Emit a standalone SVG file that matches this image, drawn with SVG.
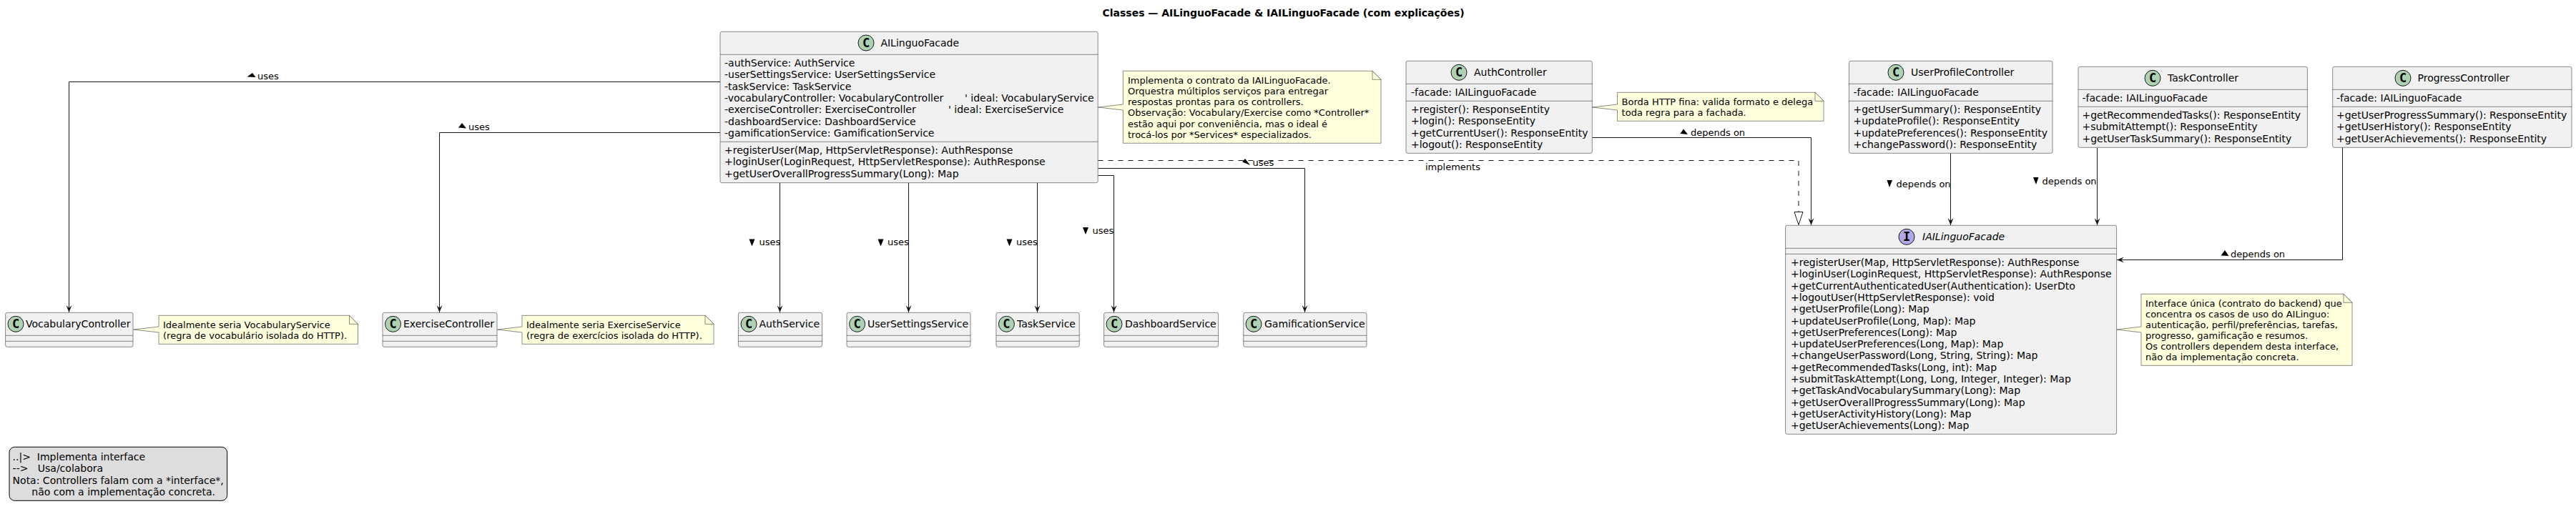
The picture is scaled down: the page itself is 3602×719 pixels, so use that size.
<svg xmlns="http://www.w3.org/2000/svg" width="3602" height="719" viewBox="0 0 3602 719">
<style>
text{font-family:"DejaVu Sans",sans-serif;font-size:14px;fill:#000;white-space:pre}
.title{font-weight:bold;text-anchor:middle}
.n,.lb{font-size:13px}
.box{fill:#F1F1F1;stroke:#181818;stroke-width:.5}
.sep{stroke:#181818;stroke-width:.5;fill:none}
.note{fill:#FEFFDD;stroke:#181818;stroke-width:.5}
.ci{fill:#ADD1B2;stroke:#181818;stroke-width:1}
.ii{fill:#B4A7E5;stroke:#181818;stroke-width:1}
.g{font-family:"DejaVu Sans Mono",monospace;font-weight:bold;font-size:17px;text-anchor:middle}
.c{fill:none;stroke:#181818;stroke-width:1;marker-end:url(#a)}
.d{fill:none;stroke:#181818;stroke-width:1;stroke-dasharray:7 7;marker-end:url(#h)}
.t{fill:#000;stroke:none}
.leg{fill:#DDDDDD;stroke:#000;stroke-width:1}
</style>
<defs>
<marker id="a" markerUnits="userSpaceOnUse" viewBox="0 0 10 8" markerWidth="10" markerHeight="8" refX="10" refY="4" orient="auto"><path d="M0,0 L10,4 L0,8 L4,4 Z" fill="#181818"/></marker>
<marker id="h" markerUnits="userSpaceOnUse" viewBox="-1 -1 20 14" markerWidth="20" markerHeight="14" refX="0" refY="6" orient="auto"><path d="M0,0 L18,6 L0,12 Z" fill="#fff" stroke="#181818"/></marker>
</defs>
<rect width="3602" height="719" fill="#fff"/>
<text class="title" x="1794.6" y="23">Classes — AILinguoFacade &amp; IAILinguoFacade (com explicações)</text>

<g id="connectors">
<path class="c" d="M1007,114.5 H96.5 V437"/>
<path class="c" d="M1007,185.5 H614.5 V437"/>
<path class="c" d="M1090.5,256 V437"/>
<path class="c" d="M1270.5,256 V437"/>
<path class="c" d="M1450.5,256 V437"/>
<path class="c" d="M1535.5,245.5 H1557.5 V437"/>
<path class="c" d="M1535.5,235.5 H1824.5 V437"/>
<path class="d" d="M1535.5,224.5 H2515 V296.5"/>
<path class="c" d="M2226.5,192.5 H2532.5 V315"/>
<path class="c" d="M2727.5,214.5 V315"/>
<path class="c" d="M2932.5,206.5 V315"/>
<path class="c" d="M3275.5,206.5 V363.5 H2960"/>
<polygon class="t" points="353,102 357.5,108 345.5,107.5"/><text class="lb" x="360" y="110.5">uses</text>
<polygon class="t" points="646,172 652,179.5 641,178.5"/><text class="lb" x="655" y="181.5">uses</text>
<polygon class="t" points="1047.5,334.5 1055.5,334.5 1051.5,344.5"/><text class="lb" x="1061.5" y="343.3">uses</text>
<polygon class="t" points="1227.5,334.5 1235.5,334.5 1231.5,344.5"/><text class="lb" x="1241" y="343.3">uses</text>
<polygon class="t" points="1407.5,334.5 1415.5,334.5 1411.5,344.5"/><text class="lb" x="1421" y="343.3">uses</text>
<polygon class="t" points="1514,318 1522,318 1518,328"/><text class="lb" x="1527.5" y="327">uses</text>
<polygon class="t" points="1741,222 1748,231 1737,226.5"/><text class="lb" x="1751.5" y="231.7">uses</text>
<text class="lb" x="1993" y="238">implements</text>
<polygon class="t" points="2354,180.5 2360,188 2349.5,187"/><text class="lb" x="2364" y="189.5">depends on</text>
<polygon class="t" points="2638.5,252 2646,252 2642,262"/><text class="lb" x="2651.5" y="261.5">depends on</text>
<polygon class="t" points="2843,248 2850.5,248 2847,258"/><text class="lb" x="2855.5" y="257.5">depends on</text>
<polygon class="t" points="3111,350 3116.5,358 3105.5,357.5"/><text class="lb" x="3119" y="359.5">depends on</text>
</g>

<g id="AILinguoFacade">
<rect class="box" x="1007" y="44.3" width="528.2" height="211.4" rx="2.5"/>
<path class="sep" d="M1007,76.3 H1535.2 M1007,198.3 H1535.2"/>
<circle class="ci" cx="1211" cy="60" r="11"/><text class="g" x="1211" y="66">C</text>
<text x="1231.4" y="65">AILinguoFacade</text>
<text x="1013" y="93">-authService: AuthService</text>
<text x="1013" y="109.3">-userSettingsService: UserSettingsService</text>
<text x="1013" y="125.6">-taskService: TaskService</text>
<text x="1013" y="141.9">-vocabularyController: VocabularyController<tspan x="1349">' ideal: VocabularyService</tspan></text>
<text x="1013" y="158.2">-exerciseController: ExerciseController<tspan x="1326">' ideal: ExerciseService</tspan></text>
<text x="1013" y="174.5">-dashboardService: DashboardService</text>
<text x="1013" y="190.8">-gamificationService: GamificationService</text>
<text x="1013" y="215">+registerUser(Map, HttpServletResponse): AuthResponse</text>
<text x="1013" y="231.3">+loginUser(LoginRequest, HttpServletResponse): AuthResponse</text>
<text x="1013" y="247.6">+getUserOverallProgressSummary(Long): Map</text>
</g>

<g id="note-facade">
<path class="note" d="M1570.4,99.3 H1919 L1931,111.3 V200.3 H1570.4 V154 L1535.5,150 L1570.4,146 Z"/>
<path class="note" d="M1919,99.3 V111.3 H1931 Z"/>
<text class="n" x="1577" y="117">Implementa o contrato da IAILinguoFacade.</text>
<text class="n" x="1577" y="132.1">Orquestra múltiplos serviços para entregar</text>
<text class="n" x="1577" y="147.3">respostas prontas para os controllers.</text>
<text class="n" x="1577" y="162.4">Observação: Vocabulary/Exercise como *Controller*</text>
<text class="n" x="1577" y="177.5">estão aqui por conveniência, mas o ideal é</text>
<text class="n" x="1577" y="192.6">trocá-los por *Services* especializados.</text>
</g>

<g id="AuthController">
<rect class="box" x="1966" y="85.3" width="260.3" height="129" rx="2.5"/>
<path class="sep" d="M1966,117.3 H2226.3 M1966,141.3 H2226.3"/>
<circle class="ci" cx="2040" cy="101.3" r="11"/><text class="g" x="2040" y="107.3">C</text>
<text x="2061" y="106">AuthController</text>
<text x="1973" y="134">-facade: IAILinguoFacade</text>
<text x="1973" y="158">+register(): ResponseEntity</text>
<text x="1973" y="174.3">+login(): ResponseEntity</text>
<text x="1973" y="190.6">+getCurrentUser(): ResponseEntity</text>
<text x="1973" y="206.9">+logout(): ResponseEntity</text>
</g>

<g id="note-auth">
<path class="note" d="M2261.5,129.3 H2538 L2550,141.3 V169.3 H2261.5 V154 L2226.5,150 L2261.5,146 Z"/>
<path class="note" d="M2538,129.3 V141.3 H2550 Z"/>
<text class="n" x="2267.6" y="146.5">Borda HTTP fina: valida formato e delega</text>
<text class="n" x="2267.6" y="161.6">toda regra para a fachada.</text>
</g>

<g id="UserProfileController">
<rect class="box" x="2585.5" y="85.3" width="284.5" height="129" rx="2.5"/>
<path class="sep" d="M2585.5,117.3 H2870 M2585.5,141.3 H2870"/>
<circle class="ci" cx="2651" cy="101.3" r="11"/><text class="g" x="2651" y="107.3">C</text>
<text x="2672" y="106">UserProfileController</text>
<text x="2591.5" y="134">-facade: IAILinguoFacade</text>
<text x="2591.5" y="158">+getUserSummary(): ResponseEntity</text>
<text x="2591.5" y="174.3">+updateProfile(): ResponseEntity</text>
<text x="2591.5" y="190.6">+updatePreferences(): ResponseEntity</text>
<text x="2591.5" y="206.9">+changePassword(): ResponseEntity</text>
</g>

<g id="TaskController">
<rect class="box" x="2906" y="93.3" width="320.4" height="113" rx="2.5"/>
<path class="sep" d="M2906,125.3 H3226.4 M2906,149.3 H3226.4"/>
<circle class="ci" cx="3010" cy="109.3" r="11"/><text class="g" x="3010" y="115.3">C</text>
<text x="3031" y="114">TaskController</text>
<text x="2911.5" y="142">-facade: IAILinguoFacade</text>
<text x="2911.5" y="166">+getRecommendedTasks(): ResponseEntity</text>
<text x="2911.5" y="182.3">+submitAttempt(): ResponseEntity</text>
<text x="2911.5" y="198.6">+getUserTaskSummary(): ResponseEntity</text>
</g>

<g id="ProgressController">
<rect class="box" x="3261.7" y="93.3" width="334.3" height="113" rx="2.5"/>
<path class="sep" d="M3261.7,125.3 H3596 M3261.7,149.3 H3596"/>
<circle class="ci" cx="3360" cy="109.3" r="11"/><text class="g" x="3360" y="115.3">C</text>
<text x="3380.5" y="114">ProgressController</text>
<text x="3267" y="142">-facade: IAILinguoFacade</text>
<text x="3267" y="166">+getUserProgressSummary(): ResponseEntity</text>
<text x="3267" y="182.3">+getUserHistory(): ResponseEntity</text>
<text x="3267" y="198.6">+getUserAchievements(): ResponseEntity</text>
</g>

<g id="IAILinguoFacade">
<rect class="box" x="2496.6" y="315.3" width="463" height="292" rx="2.5"/>
<path class="sep" d="M2496.6,347.3 H2959.6 M2496.6,355.3 H2959.6"/>
<circle class="ii" cx="2666" cy="331.3" r="11"/><text class="g" x="2666" y="337.3">I</text>
<text x="2688" y="336" font-style="italic">IAILinguoFacade</text>
<text x="2504" y="372">+registerUser(Map, HttpServletResponse): AuthResponse</text>
<text x="2504" y="388.3">+loginUser(LoginRequest, HttpServletResponse): AuthResponse</text>
<text x="2504" y="404.6">+getCurrentAuthenticatedUser(Authentication): UserDto</text>
<text x="2504" y="420.9">+logoutUser(HttpServletResponse): void</text>
<text x="2504" y="437.2">+getUserProfile(Long): Map</text>
<text x="2504" y="453.5">+updateUserProfile(Long, Map): Map</text>
<text x="2504" y="469.8">+getUserPreferences(Long): Map</text>
<text x="2504" y="486.1">+updateUserPreferences(Long, Map): Map</text>
<text x="2504" y="502.4">+changeUserPassword(Long, String, String): Map</text>
<text x="2504" y="518.7">+getRecommendedTasks(Long, int): Map</text>
<text x="2504" y="535">+submitTaskAttempt(Long, Long, Integer, Integer): Map</text>
<text x="2504" y="551.3">+getTaskAndVocabularySummary(Long): Map</text>
<text x="2504" y="567.6">+getUserOverallProgressSummary(Long): Map</text>
<text x="2504" y="583.9">+getUserActivityHistory(Long): Map</text>
<text x="2504" y="600.2">+getUserAchievements(Long): Map</text>
</g>

<g id="note-interface">
<path class="note" d="M2994,411.3 H3277 L3289,423.3 V511.3 H2994 V465 L2960,461 L2994,457 Z"/>
<path class="note" d="M3277,411.3 V423.3 H3289 Z"/>
<text class="n" x="3000" y="428.5">Interface única (contrato do backend) que</text>
<text class="n" x="3000" y="443.6">concentra os casos de uso do AILinguo:</text>
<text class="n" x="3000" y="458.8">autenticação, perfil/preferências, tarefas,</text>
<text class="n" x="3000" y="473.9">progresso, gamificação e resumos.</text>
<text class="n" x="3000" y="489">Os controllers dependem desta interface,</text>
<text class="n" x="3000" y="504.1">não da implementação concreta.</text>
</g>

<g id="VocabularyController">
<rect class="box" x="7.6" y="437.3" width="178.4" height="48" rx="2.5"/>
<path class="sep" d="M7.6,469.3 H186 M7.6,477.3 H186"/>
<circle class="ci" cx="22" cy="453.3" r="11"/><text class="g" x="22" y="459.3">C</text>
<text x="36" y="458">VocabularyController</text>
</g>
<g id="note-vocabulary">
<path class="note" d="M222,441.3 H488.5 L500.5,453.3 V481.3 H222 V465 L186.5,461 L222,457 Z"/>
<path class="note" d="M488.5,441.3 V453.3 H500.5 Z"/>
<text class="n" x="228" y="458.5">Idealmente seria VocabularyService</text>
<text class="n" x="228" y="473.6">(regra de vocabulário isolada do HTTP).</text>
</g>

<g id="ExerciseController">
<rect class="box" x="535" y="437.3" width="160" height="48" rx="2.5"/>
<path class="sep" d="M535,469.3 H695 M535,477.3 H695"/>
<circle class="ci" cx="549.5" cy="453.3" r="11"/><text class="g" x="549.5" y="459.3">C</text>
<text x="564" y="458">ExerciseController</text>
</g>
<g id="note-exercise">
<path class="note" d="M730,441.3 H986 L998,453.3 V481.3 H730 V465 L695.5,461 L730,457 Z"/>
<path class="note" d="M986,441.3 V453.3 H998 Z"/>
<text class="n" x="736" y="458.5">Idealmente seria ExerciseService</text>
<text class="n" x="736" y="473.6">(regra de exercícios isolada do HTTP).</text>
</g>

<g id="AuthService">
<rect class="box" x="1032.4" y="437.3" width="117.1" height="48" rx="2.5"/>
<path class="sep" d="M1032.4,469.3 H1149.5 M1032.4,477.3 H1149.5"/>
<circle class="ci" cx="1047" cy="453.3" r="11"/><text class="g" x="1047" y="459.3">C</text>
<text x="1061.5" y="458">AuthService</text>
</g>
<g id="UserSettingsService">
<rect class="box" x="1184" y="437.3" width="173" height="48" rx="2.5"/>
<path class="sep" d="M1184,469.3 H1357 M1184,477.3 H1357"/>
<circle class="ci" cx="1198.6" cy="453.3" r="11"/><text class="g" x="1198.6" y="459.3">C</text>
<text x="1213" y="458">UserSettingsService</text>
</g>
<g id="TaskService">
<rect class="box" x="1392.9" y="437.3" width="116.3" height="48" rx="2.5"/>
<path class="sep" d="M1392.9,469.3 H1509.2 M1392.9,477.3 H1509.2"/>
<circle class="ci" cx="1407.4" cy="453.3" r="11"/><text class="g" x="1407.4" y="459.3">C</text>
<text x="1422" y="458">TaskService</text>
</g>
<g id="DashboardService">
<rect class="box" x="1543.6" y="437.3" width="160" height="48" rx="2.5"/>
<path class="sep" d="M1543.6,469.3 H1703.6 M1543.6,477.3 H1703.6"/>
<circle class="ci" cx="1558" cy="453.3" r="11"/><text class="g" x="1558" y="459.3">C</text>
<text x="1573" y="458">DashboardService</text>
</g>
<g id="GamificationService">
<rect class="box" x="1738.8" y="437.3" width="172.2" height="48" rx="2.5"/>
<path class="sep" d="M1738.8,469.3 H1911 M1738.8,477.3 H1911"/>
<circle class="ci" cx="1753" cy="453.3" r="11"/><text class="g" x="1753" y="459.3">C</text>
<text x="1768" y="458">GamificationService</text>
</g>

<g id="legend">
<rect class="leg" x="13" y="625.3" width="304.6" height="75" rx="7.5"/>
<text x="17.6" y="644">..|&gt;  Implementa interface</text>
<text x="17.6" y="660.3">--&gt;   Usa/colabora</text>
<text x="17.6" y="676.6">Nota: Controllers falam com a *interface*,</text>
<text x="17.6" y="692.9">      não com a implementação concreta.</text>
</g>
</svg>
